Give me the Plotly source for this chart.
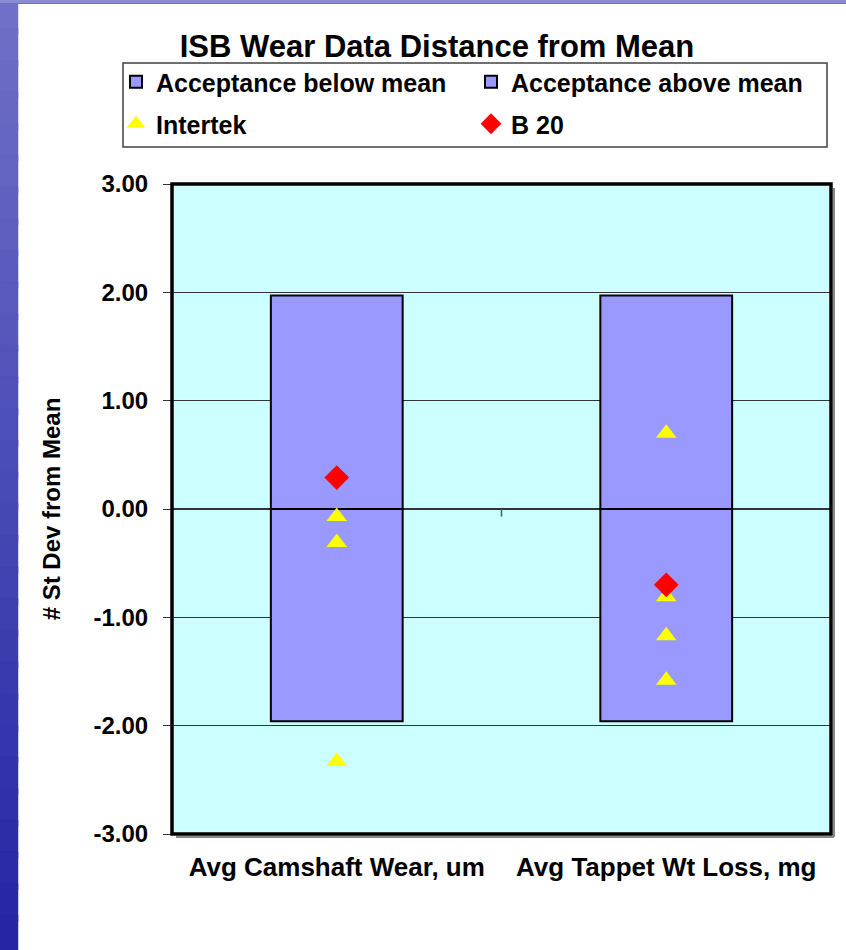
import plotly.graph_objects as go

# ---------------- data ----------------
categories = ["Avg Camshaft Wear, um", "Avg Tappet Wt Loss, mg"]
accept_below = [-1.96, -1.96]
accept_above = [1.97, 1.97]
intertek_cat = ["Avg Camshaft Wear, um"] * 3 + ["Avg Tappet Wt Loss, mg"] * 4
intertek_vals = [-0.07, -0.31, -2.33, 0.70, -0.81, -1.17, -1.58]
b20_cat = ["Avg Camshaft Wear, um", "Avg Tappet Wt Loss, mg"]
b20_vals = [0.29, -0.70]
y_ticks = [3, 2, 1, 0, -1, -2, -3]
y_tick_text = ["3.00", "2.00", "1.00", "0.00", "-1.00", "-2.00", "-3.00"]

# ---------------- layout geometry ----------------
W, H = 846, 950
L, R, T, B = 172, 15, 184, 116
PW, PH = W - L - R, H - T - B


def px(X):
    return (X - L) / PW


def py(Y):
    return (H - B - Y) / PH


FONT = "Liberation Sans, Arial, sans-serif"
BAR_COLOR = "#9999FF"

fig = go.Figure()
fig.add_trace(go.Bar(
    x=categories, y=accept_below, name="Acceptance below mean",
    marker=dict(color=BAR_COLOR, line=dict(color="black", width=2)),
    width=0.4, legend="legend",
))
fig.add_trace(go.Bar(
    x=categories, y=accept_above, name="Acceptance above mean",
    marker=dict(color=BAR_COLOR, line=dict(color="black", width=2)),
    width=0.4, legend="legend2",
))
fig.add_trace(go.Scatter(
    x=intertek_cat, y=intertek_vals, name="Intertek", mode="markers",
    marker=dict(symbol="triangle-up", color="#FFFF00", size=18, line=dict(width=0)),
    legend="legend3",
))
fig.add_trace(go.Scatter(
    x=b20_cat, y=b20_vals, name="B 20", mode="markers",
    marker=dict(symbol="diamond", color="#FF0000", size=19, line=dict(width=0)),
    legend="legend4",
))

legend_common = dict(
    bgcolor="rgba(0,0,0,0)", borderwidth=0,
    font=dict(family=FONT, size=25, color="black", weight="bold"),
    xanchor="left", yanchor="middle", itemclick=False,
)

shapes = []
# left decorative blue strip (gradient bands, slightly overlapping)
n = 30
top_c = (112, 112, 200)
bot_c = (38, 38, 165)
y_top, y_bot = py(0), py(H)
step = (y_top - y_bot) / n
for i in range(n):
    t = i / (n - 1)
    c = tuple(int(top_c[k] + (bot_c[k] - top_c[k]) * t) for k in range(3))
    y1 = y_top - step * i + step * 0.1
    y0 = y_top - step * (i + 1) - step * 0.1
    shapes.append(dict(type="rect", xref="paper", yref="paper",
                       x0=px(0), x1=px(18), y0=y0, y1=y1,
                       fillcolor="rgb(%d,%d,%d)" % c,
                       line=dict(width=0.5, color="rgb(%d,%d,%d)" % c),
                       layer="below"))
# top strip
shapes.append(dict(type="rect", xref="paper", yref="paper",
                   x0=px(0), x1=px(W), y0=py(3), y1=py(0),
                   fillcolor="#8C8CD2", line=dict(width=0), layer="below"))
shapes.append(dict(type="line", xref="paper", yref="paper",
                   x0=px(18), x1=px(W), y0=py(3.5), y1=py(3.5),
                   line=dict(color="#7A7A7A", width=1), layer="below"))
# legend box
shapes.append(dict(type="rect", xref="paper", yref="paper",
                   x0=px(123), x1=px(827), y0=py(147), y1=py(63),
                   line=dict(color="#404040", width=1.5), fillcolor="rgba(0,0,0,0)"))
# plot-area shadow and border
shapes.append(dict(type="line", xref="paper", yref="paper",
                   x0=px(L + PW + 3), x1=px(L + PW + 3), y0=py(T + 4), y1=py(T + PH + 3),
                   line=dict(color="#8A8A8A", width=2)))
shapes.append(dict(type="line", xref="paper", yref="paper",
                   x0=px(L + 4), x1=px(L + PW + 3), y0=py(T + PH + 3), y1=py(T + PH + 3),
                   line=dict(color="#8A8A8A", width=2)))
shapes.append(dict(type="rect", xref="paper", yref="paper",
                   x0=0, x1=1, y0=0, y1=1,
                   line=dict(color="black", width=3.5), fillcolor="rgba(0,0,0,0)"))
# category-axis tick between categories at the zero crossing
shapes.append(dict(type="line", xref="x", yref="y",
                   x0=0.5, x1=0.5, y0=0, y1=-0.07,
                   line=dict(color="#336666", width=1.5)))

fig.update_layout(
    width=W, height=H,
    margin=dict(l=L, r=R, t=T, b=B, pad=0),
    paper_bgcolor="white",
    plot_bgcolor="#CCFFFF",
    barmode="relative",
    font=dict(family=FONT, color="black"),
    title=dict(text="<b>ISB Wear Data Distance from Mean</b>",
               x=437 / W, xanchor="center", y=1 - 46 / H, yanchor="middle",
               font=dict(family=FONT, size=31, color="black")),
    legend=dict(x=px(116), y=py(82), **legend_common),
    legend2=dict(x=px(471), y=py(82), **legend_common),
    legend3=dict(x=px(116), y=py(124), **legend_common),
    legend4=dict(x=px(471), y=py(124), **legend_common),
    xaxis=dict(
        type="category", range=[-0.5, 1.5], showgrid=False, zeroline=False,
        showline=False, ticks="", ticklabelstandoff=15,
        tickfont=dict(family=FONT, size=26, color="black", weight="bold"),
        fixedrange=True,
    ),
    yaxis=dict(
        range=[-3, 3], tickvals=y_ticks, ticktext=y_tick_text,
        showgrid=True, gridcolor="#333333", gridwidth=1,
        zeroline=True, zerolinecolor="#333333", zerolinewidth=1.5,
        ticks="outside", ticklen=8, tickcolor="#333333", tickwidth=1,
        ticklabelstandoff=10,
        tickfont=dict(family=FONT, size=24, color="black", weight="bold"),
        title=dict(text="# St Dev from Mean", standoff=26,
                   font=dict(family=FONT, size=24, color="black", weight="bold")),
        fixedrange=True,
    ),
    shapes=shapes,
    showlegend=True,
)

fig.write_html("out.html")
